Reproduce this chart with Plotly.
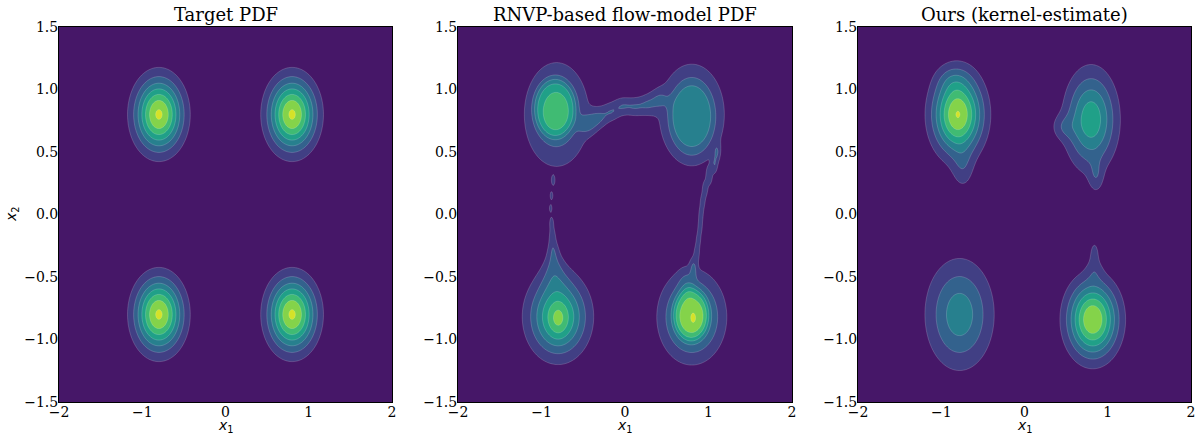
import numpy as np
import plotly.graph_objects as go
from plotly.colors import sample_colorscale

# ---------------- text / ticks ----------------
titles = ["Target PDF", "RNVP-based flow-model PDF", "Ours (kernel-estimate)"]
x_ticks = [-2, -1, 0, 1, 2]
x_tick_text = ["\u22122", "\u22121", "0", "1", "2"]
y_ticks = [-1.5, -1.0, -0.5, 0.0, 0.5, 1.0, 1.5]
y_tick_text = ["\u22121.5", "\u22121.0", "\u22120.5", "0.0", "0.5", "1.0", "1.5"]

# contour levels (in band units) -> 8 filled bands
n_bands = 8
level_start, level_end, level_size = 1, 7, 1

# ---------------- density components ----------------
# each component: centre (cx, cy), widths (sx, sy), peak height (amp, band units), shape exponent p
target_cx = [-0.8, 0.8, -0.8, 0.8]
target_cy = [0.8, 0.8, -0.8, -0.8]
target_sx = [0.19, 0.19, 0.19, 0.19]
target_sy = [0.19, 0.19, 0.19, 0.19]
target_amp = [7.15, 7.15, 7.15, 7.15]
target_p = [1, 1, 1, 1]

# RNVP flow model: blobs (base + flat core), bridge, right tail, left dots, lower-left tail
rnvp_cx = [-0.82, -0.84, 0.80, 0.80,
           -0.45, -0.32, -0.17, -0.03, 0.12, 0.27, 0.42,
           1.10, 1.07, 1.01, 0.96, 0.93, 0.91, 0.90, 0.88, 0.86, 0.82,
           -0.86, -0.88, -0.89,
           -0.88, -0.87, -0.86, -0.85, -0.84,
           -0.80, -0.80, -0.82,
           0.80, 0.79, 0.82, 0.74]
rnvp_cy = [0.80, 0.85, 0.80, 0.78,
           0.72, 0.77, 0.82, 0.87, 0.86, 0.88, 0.92,
           0.50, 0.40, 0.30, 0.20, 0.10, 0.00, -0.10, -0.20, -0.30, -0.42,
           0.27, 0.15, 0.05,
           -0.06, -0.16, -0.28, -0.40, -0.52,
           -0.82, -0.84, -0.80,
           -0.82, -0.80, -0.83, -0.55]
rnvp_sx = [0.26, 0.18, 0.31, 0.20,
           0.08, 0.08, 0.08, 0.08, 0.08, 0.08, 0.08,
           0.025, 0.025, 0.025, 0.025, 0.025, 0.025, 0.025, 0.025, 0.025, 0.03,
           0.014, 0.014, 0.014,
           0.02, 0.03, 0.05, 0.08, 0.12,
           0.22, 0.07, 0.32,
           0.24, 0.15, 0.02, 0.07]
rnvp_sy = [0.28, 0.17, 0.32, 0.22,
           0.055, 0.055, 0.055, 0.055, 0.055, 0.055, 0.055,
           0.05, 0.05, 0.05, 0.05, 0.05, 0.05, 0.05, 0.05, 0.05, 0.06,
           0.028, 0.028, 0.028,
           0.04, 0.06, 0.07, 0.08, 0.09,
           0.20, 0.09, 0.26,
           0.22, 0.15, 0.03, 0.08]
rnvp_amp = [3.0, 2.6, 2.2, 1.7,
            1.5, 1.5, 1.5, 1.5, 1.4, 1.3, 1.2,
            1.25, 1.25, 1.25, 1.25, 1.25, 1.25, 1.25, 1.25, 1.25, 1.3,
            1.5, 1.5, 1.5,
            1.3, 1.3, 1.3, 1.1, 0.9,
            5.0, 0.8, 0.6,
            4.6, 2.3, 0.4, 0.8]
rnvp_p = [1, 3, 1, 3,
          1, 1, 1, 1, 1, 1, 1,
          1, 1, 1, 1, 1, 1, 1, 1, 1, 1,
          1, 1, 1,
          1, 1, 1, 1, 1,
          1, 1, 1,
          1, 3, 1, 1]

# kernel estimate
kde_cx = [-0.80, -0.74, -0.86, 0.80, 0.46, 0.86, -0.78, 0.82, 0.84, 0.84]
kde_cy = [0.80, 0.36, 1.08, 0.76, 0.70, 0.30, -0.80, -0.84, -0.30, -0.44]
kde_sx = [0.20, 0.09, 0.14, 0.20, 0.10, 0.06, 0.26, 0.20, 0.04, 0.07]
kde_sy = [0.21, 0.12, 0.08, 0.25, 0.07, 0.09, 0.28, 0.20, 0.07, 0.07]
kde_amp = [7.05, 1.2, 0.8, 4.7, 1.1, 1.2, 3.6, 7.0, 1.2, 0.8]
kde_p = [1, 1, 1, 1, 1, 1, 1, 1, 1, 1]

# ---------------- grid ----------------
gx = np.linspace(-2, 2, 321)
gy = np.linspace(-1.5, 1.5, 241)
X, Y = np.meshgrid(gx, gy)


def density(cx, cy, sx, sy, amp, p):
    z = np.zeros_like(X)
    for a, b, c, d, e, f in zip(cx, cy, sx, sy, amp, p):
        d2 = ((X - a) / c) ** 2 + ((Y - b) / d) ** 2
        z += e * np.exp(-((d2 / 2.0) ** f))
    return z


fields = [
    density(target_cx, target_cy, target_sx, target_sy, target_amp, target_p),
    density(rnvp_cx, rnvp_cy, rnvp_sx, rnvp_sy, rnvp_amp, rnvp_p),
    density(kde_cx, kde_cy, kde_sx, kde_sy, kde_amp, kde_p),
]

# matplotlib-like contourf colours: viridis at band mid points
band_cols = sample_colorscale("Viridis", [(i + 0.5) / n_bands for i in range(n_bands)])
colorscale = [[i / (n_bands - 1), c] for i, c in enumerate(band_cols)]

W, H = 1198, 437
L, R, T, B = 59, 7, 27, 35
PW, PH = W - L - R, H - T - B
x_dom_px = [(59, 392), (458, 792), (858, 1191)]


def px2x(px):
    return (px - L) / PW


def py2y(py):
    return (H - B - py) / PH


fig = go.Figure()
tick_font = dict(family="DejaVu Serif", size=14, color="black")

for i, z in enumerate(fields):
    xa = "x" if i == 0 else f"x{i+1}"
    ya = "y" if i == 0 else f"y{i+1}"
    fig.add_trace(go.Contour(
        x=gx, y=gy, z=z,
        xaxis=xa, yaxis=ya,
        colorscale=colorscale, showscale=False,
        autocontour=False,
        contours=dict(start=level_start, end=level_end, size=level_size, coloring="fill"),
        line=dict(color="rgba(255,255,255,0.35)", width=0.5, smoothing=1 if i == 0 else 0.6),
        hoverinfo="skip",
    ))
    xd = [max(0.0, px2x(x_dom_px[i][0])), min(1.0, px2x(x_dom_px[i][1]))]
    axis_common = dict(showline=True, linecolor="black", linewidth=1, mirror=True,
                       ticks="", showgrid=False, zeroline=False, tickfont=tick_font,
                       automargin=False, ticklabelstandoff=-3)
    fig.layout[("xaxis" if i == 0 else f"xaxis{i+1}")] = dict(
        domain=xd, range=[-2, 2], anchor=ya, tickvals=x_ticks, ticktext=x_tick_text,
        **axis_common)
    fig.layout[("yaxis" if i == 0 else f"yaxis{i+1}")] = dict(
        domain=[0, 1], range=[-1.5, 1.5], anchor=xa, tickvals=y_ticks, ticktext=y_tick_text,
        **axis_common)
    xc = (xd[0] + xd[1]) / 2
    fig.add_annotation(text=titles[i], x=xc, y=py2y(14), xref="paper", yref="paper",
                       showarrow=False, xanchor="center", yanchor="middle",
                       font=dict(family="DejaVu Serif", size=18, color="black"))
    fig.add_annotation(text="<i>x</i><sub>1</sub>", x=xc, y=py2y(415), xref="paper", yref="paper",
                       showarrow=False, xanchor="center", yanchor="top",
                       font=dict(family="DejaVu Sans", size=14, color="black"))

fig.add_annotation(text="<i>x</i><sub>2</sub>", x=px2x(12), y=py2y(214), xref="paper", yref="paper",
                   showarrow=False, xanchor="center", yanchor="middle", textangle=-90,
                   font=dict(family="DejaVu Sans", size=14, color="black"))

fig.update_layout(width=W, height=H, margin=dict(l=L, r=R, t=T, b=B, autoexpand=False),
                  paper_bgcolor="white", plot_bgcolor="white", showlegend=False)

fig.write_html("out.html", config={"displayModeBar": False},
               post_script="document.body.style.margin='0px';")
